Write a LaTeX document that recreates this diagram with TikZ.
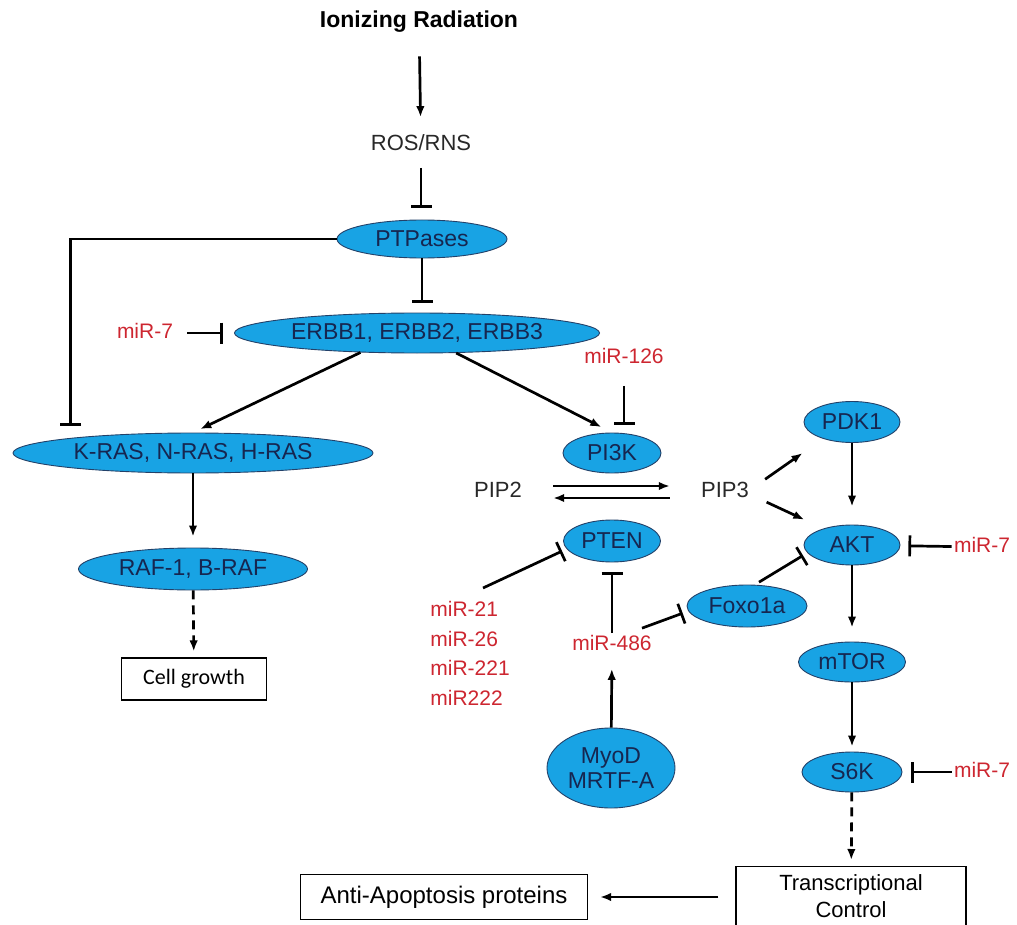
\documentclass[tikz,border=0pt]{standalone}
\usepackage{fontspec}
\setmainfont{Liberation Sans}
\newfontfamily\cellfont{Carlito}
\usetikzlibrary{arrows.meta}
\usetikzlibrary{shapes.geometric}
\definecolor{protfill}{RGB}{24,163,228}
\definecolor{protdraw}{RGB}{35,65,105}
\definecolor{prottext}{RGB}{22,38,80}
\definecolor{mirred}{RGB}{205,38,48}
\definecolor{lbltext}{RGB}{40,40,40}

\begin{document}
\begin{tikzpicture}[x=1pt, y=-1pt, line width=2.7pt, node distance=117pt,
        prot/.style={ellipse, draw=protdraw, line width=0.9pt, fill=protfill, text=prottext,
            inner sep=0pt, align=center, font=\fontsize{23}{25}\selectfont},
        mir/.style={text=mirred, inner sep=1pt, text height=15pt, text depth=4pt,
            font=\fontsize{21}{25}\selectfont},
        lbl/.style={text=lbltext, inner sep=1pt, text height=16pt, text depth=5pt,
            font=\fontsize{22}{26}\selectfont},
        outbox/.style={draw, line width=1.2pt, inner sep=2pt, align=center},
        act/.style={-{Latex[length=11pt,width=8.5pt]}},
        inh/.style={-{Bar[width=21pt]}},
        lead/.style={act, dash pattern=on 9pt off 6pt}]
        \useasboundingbox (0,0) rectangle (1017,925);

        % stress input
        \node[inner sep=1pt, text height=17pt, text depth=5pt, font=\bfseries\fontsize{23}{26}\selectfont] (ir) at (419,22) {Ionizing Radiation};
        \node[lbl] (ros) at (421,145) {ROS/RNS};
        \node[prot, minimum width=170pt, minimum height=38pt] (ptp) at (422,239) {PTPases};
        \node[prot, minimum width=365pt, minimum height=40pt] (erbb) at (417,333) {ERBB1, ERBB2, ERBB3};
        \node[mir] (mir7a) at (145,333) {miR-7};

        % RAS branch
        \node[prot, minimum width=360pt, minimum height=40pt] (kras) at (193,453) {K-RAS, N-RAS, H-RAS};
        \node[prot, minimum width=229pt, minimum height=42pt] (raf) [node distance=116pt, below of=kras] {RAF-1, B-RAF};
        \node[outbox, minimum width=145pt, minimum height=42pt, font=\cellfont\fontsize{22}{26}\selectfont] (cell) at (194,679) {Cell growth};

        % PI3K branch
        \node[mir] (mir126) at (624,358) {miR-126};
        \node[prot, minimum width=98pt, minimum height=40pt] (pi3k) at (612,453) {PI3K};
        \node[lbl] (pip2) at (498,492) {PIP2};
        \node[lbl] (pip3) at (725,492) {PIP3};
        \node[prot, minimum width=97pt, minimum height=42pt] (pten) at (612,541) {PTEN};
        \node[text=mirred, inner sep=1pt, align=left, anchor=north west, font=\fontsize{21}{29.5}\selectfont] (mirlist) at (428,599) {miR-21\\miR-26\\miR-221\\miR222};
        \node[mir] (mir486) at (612,645) {miR-486};
        \node[prot, minimum width=128pt, minimum height=80pt] (myod) at (611,768) {MyoD\\MRTF-A};
        \node[prot, minimum width=120pt, minimum height=42pt] (foxo) at (747,606) {Foxo1a};

        % AKT chain
        \node[prot, minimum width=96pt, minimum height=41pt] (pdk) at (852,422) {PDK1};
        \node[prot, minimum width=96pt, minimum height=40pt] (akt) [node distance=123pt, below of=pdk] {AKT};
        \node[prot, minimum width=107pt, minimum height=40pt] (mtor) [below of=akt] {mTOR};
        \node[prot, minimum width=100pt, minimum height=40pt] (s6k) [node distance=110pt, below of=mtor] {S6K};
        \node[mir] (mir7b) at (982,547) {miR-7};
        \node[mir] (mir7c) at (982,772) {miR-7};
        \node[outbox, minimum width=230pt, minimum height=60pt, anchor=north, font=\fontsize{22}{27}\selectfont] (tc) at (851,866) {Transcriptional\\Control};
        \node[outbox, minimum width=287pt, minimum height=45pt, font=\fontsize{24}{28}\selectfont] (anti) at (444,897) {Anti-Apoptosis proteins};

        \path (ir) edge[act, shorten <=21pt, shorten >=15pt] (ros)
              (ros) edge[inh, shorten <=10pt, shorten >=12pt] (ros |- ptp.north)
              (ptp.south) edge[inh, shorten >=10pt] (ptp.south |- erbb.north)
              (mir7a) edge[inh, shorten <=12pt, shorten >=11pt] (erbb.west)
              (erbb.199) edge[act, shorten >=8pt] (kras.north)
              (erbb.333) edge[act, shorten >=12pt] (pi3k.north)
              (mir126) edge[inh, shorten <=16pt, shorten >=8pt] (mir126 |- pi3k.north)
              (kras) edge[act, shorten >=11pt] (raf)
              (raf) edge[lead, shorten >=6pt] (cell);
        \draw[inh, shorten >=12pt] (ptp.west) -| (kras.173.5);

        \path ([yshift=6pt]pip2.east) edge[act, shorten <=29pt, shorten >=29pt] ([yshift=6pt]pip3.west)
              ([yshift=-6pt]pip3.west) edge[act, shorten <=29pt, shorten >=29pt] ([yshift=-6pt]pip2.east)
              ([xshift=55pt, yshift=11pt]mirlist.north west) edge[inh, shorten >=5pt] (pten.190)
              (mir486) edge[inh, shorten >=10pt] (pten)
              ([xshift=30pt, yshift=5pt]mir486.north) edge[inh, shorten >=6pt] (foxo.185)
              (myod) edge[act, shorten >=12pt] (mir486)
              (foxo.70) edge[inh, shorten <=5pt, shorten >=5pt] (akt.190);

        \path ([yshift=3pt]pip3.east) edge[act, shorten <=17pt, shorten >=25pt] (pdk.210)
              ([yshift=-3pt]pip3.east) edge[act, shorten <=17pt, shorten >=21pt] (akt.150)
              (pdk) edge[act, shorten >=18pt] (akt)
              (akt) edge[act, shorten >=14pt] (mtor)
              (mtor) edge[act, shorten >=5pt] (s6k)
              (s6k) edge[lead, shorten >=6pt] (tc)
              (mir7b) edge[inh, shorten >=8pt] (akt)
              (mir7c) edge[inh, shorten >=9pt] (s6k)
              (tc.west |- anti.east) edge[act, shorten <=17pt, shorten >=12pt] (anti.east);
    \end{tikzpicture}
\end{document}
